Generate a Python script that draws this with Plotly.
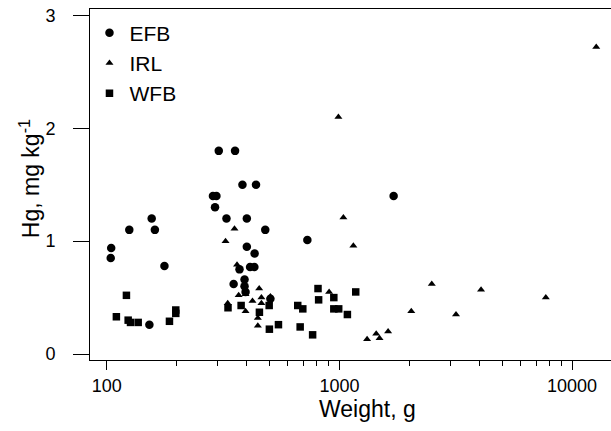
import plotly.graph_objects as go

# EFB (circles)
efb_w = [303, 356, 383, 438, 286, 296, 292, 327, 400, 480, 400, 432, 413, 431, 372,
         351, 391, 391, 395, 505, 156, 125, 161, 104.5, 104, 177, 152.5, 1710, 728]
efb_hg = [1.80, 1.80, 1.50, 1.50, 1.40, 1.40, 1.30, 1.20, 1.20, 1.10, 0.95, 0.89, 0.77, 0.77, 0.75,
          0.62, 0.66, 0.60, 0.55, 0.49, 1.20, 1.10, 1.10, 0.94, 0.85, 0.78, 0.26, 1.40, 1.01]

# IRL (triangles)
irl_w = [354, 324, 363, 369, 395, 331, 423, 452, 462, 395, 446, 446, 505, 462,
         1040, 1148, 903, 2036, 2494, 3170, 4062, 1315, 1439, 1487, 1619, 990, 12700, 7710]
irl_hg = [1.11, 1.00, 0.79, 0.52, 0.53, 0.45, 0.47, 0.58, 0.50, 0.38, 0.32, 0.25, 0.51, 0.45,
          1.21, 0.96, 0.55, 0.38, 0.62, 0.35, 0.57, 0.13, 0.18, 0.14, 0.20, 2.10, 2.72, 0.50]

# WFB (squares)
wfb_w = [121.5, 110, 123.6, 126.5, 136.5, 186, 198, 198, 332, 378, 453, 499, 500, 547,
         662, 696, 678, 767, 809, 814, 946, 946, 993, 1082, 1175]
wfb_hg = [0.52, 0.33, 0.30, 0.28, 0.28, 0.29, 0.39, 0.36, 0.41, 0.43, 0.37, 0.43, 0.22, 0.26,
          0.43, 0.40, 0.24, 0.17, 0.58, 0.48, 0.50, 0.40, 0.40, 0.35, 0.55]

x_major = [100, 1000, 10000]
x_minor = [200, 300, 400, 500, 600, 700, 800, 900,
           2000, 3000, 4000, 5000, 6000, 7000, 8000, 9000]
y_ticks = [0, 1, 2, 3]

x_title = "Weight, g"
y_title = "Hg, mg kg<sup>-1</sup>"

FONT = "Arial, Liberation Sans, sans-serif"

fig = go.Figure()
fig.add_trace(go.Scatter(x=efb_w, y=efb_hg, mode="markers", name="EFB",
                         marker=dict(symbol="circle", size=8.5, color="black")))
fig.add_trace(go.Scatter(x=irl_w, y=irl_hg, mode="markers", name="IRL",
                         marker=dict(symbol="triangle-up", size=7, color="black")))
fig.add_trace(go.Scatter(x=wfb_w, y=wfb_hg, mode="markers", name="WFB",
                         marker=dict(symbol="square", size=7.5, color="black")))

fig.update_layout(
    width=620, height=431,
    margin=dict(l=89.5, r=8, t=9.3, b=70.7, autoexpand=False),
    paper_bgcolor="white", plot_bgcolor="white",
    font=dict(family=FONT, color="black", size=18),
    showlegend=True,
    legend=dict(x=-0.001, y=0.99, xanchor="left", yanchor="top",
                bgcolor="rgba(0,0,0,0)", font=dict(size=21, family=FONT),
                itemwidth=30, tracegroupgap=0),
    annotations=[
        dict(text=x_title, xref="paper", yref="paper", x=0.532, y=-0.14,
             xanchor="center", yanchor="middle", showarrow=False,
             font=dict(size=23, family=FONT)),
        dict(text=y_title, xref="paper", yref="paper", x=-0.116, y=0.5165,
             xanchor="center", yanchor="middle", showarrow=False, textangle=-90,
             font=dict(size=23, family=FONT)),
    ],
)
fig.update_xaxes(
    type="log", range=[1.928, 4.1715], automargin=False,
    tickvals=x_major, ticktext=[str(v) for v in x_major],
    ticks="outside", ticklen=9, tickwidth=1, tickcolor="black",
    minor=dict(tickvals=x_minor, ticks="outside", ticklen=5, tickcolor="black", showgrid=False),
    showline=True, linecolor="black", linewidth=1, mirror=True,
    showgrid=False, zeroline=False,
    tickfont=dict(size=18), ticklabelstandoff=0, ticklabeloverflow="allow",
)
fig.update_yaxes(
    range=[-0.053, 3.057], automargin=False,
    tickvals=y_ticks,
    ticks="outside", ticklen=16, tickwidth=1, tickcolor="black",
    showline=True, linecolor="black", linewidth=1, mirror=False,
    showgrid=False, zeroline=False,
    tickfont=dict(size=18), ticklabelstandoff=14, ticklabeloverflow="allow",
)

fig.write_html("out.html", config={"displayModeBar": False},
               post_script="document.body.style.margin='0px';document.body.style.overflow='hidden';")
